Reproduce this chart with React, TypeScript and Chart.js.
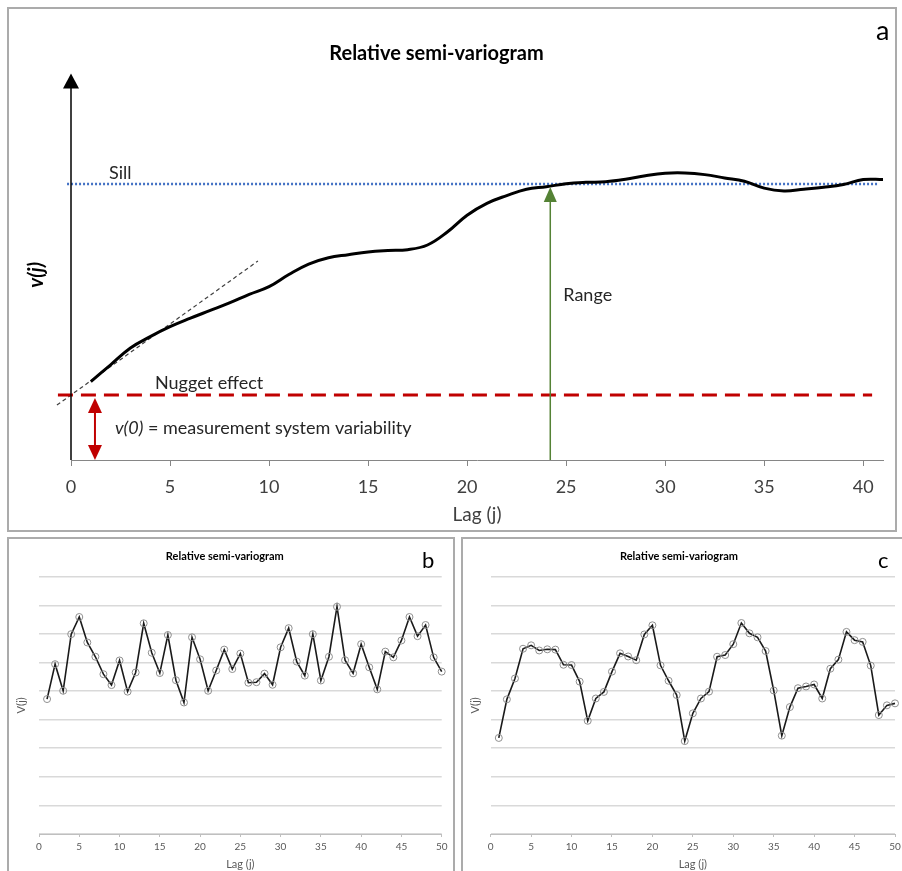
import React, { useEffect, useRef } from 'react';
import { Chart, registerables } from 'chart.js';

Chart.register(...registerables);
Chart.defaults.font.family = 'Lato';

// ---------- Panel a : idealised relative semi-variogram ----------
const LAG_A = [1, 2, 3, 4, 5, 6, 7, 8, 9, 10, 11, 12, 13, 14, 15, 16, 17, 18, 19, 20, 21,
  22, 23, 24, 25, 26, 27, 28, 29, 30, 31, 32, 33, 34, 35, 36, 37, 38, 39, 40, 41];
const V_A = [0.284, 0.345, 0.406, 0.447, 0.483, 0.513, 0.541, 0.569, 0.600, 0.628, 0.672,
  0.710, 0.733, 0.744, 0.754, 0.759, 0.762, 0.779, 0.826, 0.887, 0.930, 0.958, 0.981,
  0.990, 1.001, 1.006, 1.008, 1.017, 1.030, 1.039, 1.040, 1.034, 1.022, 1.010, 0.985,
  0.975, 0.981, 0.988, 0.998, 1.016, 1.016];
const LAG_TICKS_A = [0, 5, 10, 15, 20, 25, 30, 35, 40];
const LAG_MAX_A = 41;
const V_MAX_A = 1.4;

const SILL = 1.0;
const SILL_LAGS = [-0.2, 40.7];
const NUGGET = 0.2355;
const NUGGET_LAGS = [-0.66, 40.45];
const TANGENT_LAGS = [-0.71, 9.44];
const TANGENT_V = [0.199, 0.721];
const RANGE_LAG = 24.2;
const RANGE_TOP = 0.989;
const NUGGET_ARROW_LAG = 1.21;

// ---------- Panels b and c : sample semi-variograms ----------
const LAG_BC = [1, 2, 3, 4, 5, 6, 7, 8, 9, 10, 11, 12, 13, 14, 15, 16, 17, 18, 19, 20,
  21, 22, 23, 24, 25, 26, 27, 28, 29, 30, 31, 32, 33, 34, 35, 36, 37, 38, 39, 40,
  41, 42, 43, 44, 45, 46, 47, 48, 49, 50];
const V_B = [4.72, 5.94, 5.01, 6.99, 7.59, 6.70, 6.20, 5.59, 5.21, 6.07,
  4.98, 5.65, 7.37, 6.34, 5.63, 6.96, 5.38, 4.60, 6.88, 6.11,
  5.01, 5.72, 6.45, 5.77, 6.31, 5.29, 5.31, 5.61, 5.22, 6.53,
  7.20, 6.03, 5.54, 6.99, 5.37, 6.20, 7.95, 6.08, 5.62, 6.64,
  5.83, 5.06, 6.38, 6.18, 6.77, 7.59, 6.92, 7.31, 6.18, 5.68];
const V_C = [3.36, 4.71, 5.44, 6.48, 6.60, 6.42, 6.46, 6.45, 5.92, 5.91,
  5.33, 3.96, 4.74, 4.97, 5.68, 6.32, 6.21, 6.08, 6.98, 7.30,
  5.90, 5.36, 4.86, 3.25, 4.22, 4.74, 4.98, 6.20, 6.26, 6.64,
  7.38, 7.02, 6.88, 6.40, 5.02, 3.44, 4.44, 5.10, 5.16, 5.23,
  4.74, 5.78, 6.10, 7.07, 6.78, 6.72, 5.89, 4.16, 4.50, 4.57];
const LAG_TICKS_BC = [0, 5, 10, 15, 20, 25, 30, 35, 40, 45, 50];
const GRID_BC = [0, 1, 2, 3, 4, 5, 6, 7, 8, 9];

const TITLE = 'Relative semi-variogram';

function tri(ctx: CanvasRenderingContext2D, tx: number, ty: number, bx1: number, by1: number, bx2: number, by2: number) {
  ctx.beginPath();
  ctx.moveTo(tx, ty);
  ctx.lineTo(bx1, by1);
  ctx.lineTo(bx2, by2);
  ctx.closePath();
  ctx.fill();
}

const annotA = {
  id: 'annotA',
  afterDatasetsDraw(chart: any) {
    const { ctx, scales } = chart;
    const x = scales.x;
    const y = scales.y;
    ctx.save();
    // y axis with arrow
    const x0 = x.getPixelForValue(0);
    const y0 = y.getPixelForValue(0);
    const yTop = y.getPixelForValue(V_MAX_A);
    ctx.strokeStyle = '#000';
    ctx.fillStyle = '#000';
    ctx.lineWidth = 1.5;
    ctx.beginPath();
    ctx.moveTo(x0, y0);
    ctx.lineTo(x0, yTop + 14);
    ctx.stroke();
    tri(ctx, x0, yTop, x0 - 8, yTop + 15, x0 + 8, yTop + 15);

    // range arrow
    const xr = x.getPixelForValue(RANGE_LAG);
    const yr = y.getPixelForValue(RANGE_TOP);
    ctx.strokeStyle = '#548235';
    ctx.fillStyle = '#548235';
    ctx.lineWidth = 1.5;
    ctx.beginPath();
    ctx.moveTo(xr, y0);
    ctx.lineTo(xr, yr + 14);
    ctx.stroke();
    tri(ctx, xr, yr, xr - 6.5, yr + 15, xr + 6.5, yr + 15);

    // nugget double arrow
    const xn = x.getPixelForValue(NUGGET_ARROW_LAG);
    const yn = y.getPixelForValue(NUGGET) + 3;
    ctx.strokeStyle = '#C00000';
    ctx.fillStyle = '#C00000';
    ctx.lineWidth = 2;
    ctx.beginPath();
    ctx.moveTo(xn, yn + 14);
    ctx.lineTo(xn, y0 - 14);
    ctx.stroke();
    tri(ctx, xn, yn, xn - 7, yn + 15, xn + 7, yn + 15);
    tri(ctx, xn, y0, xn - 7, y0 - 15, xn + 7, y0 - 15);

    // texts
    ctx.fillStyle = '#262626';
    ctx.textBaseline = 'alphabetic';
    ctx.textAlign = 'left';
    ctx.font = '18px Lato';
    ctx.fillText('Sill', x.getPixelForValue(1.92), y.getPixelForValue(SILL) - 5);
    ctx.fillText('Nugget effect', x.getPixelForValue(4.24), y.getPixelForValue(NUGGET) - 6);
    ctx.fillText('Range', xr + 13, y.getPixelForValue(0.576));
    const tx = x.getPixelForValue(2.22);
    const ty = y.getPixelForValue(0.094);
    ctx.font = 'italic 18px Lato';
    ctx.fillText('v(0)', tx, ty);
    const w = ctx.measureText('v(0)').width;
    ctx.font = '18px Lato';
    ctx.fillText(' = measurement system variability', tx + w, ty);

    // y axis label
    ctx.save();
    ctx.translate(x0 - 34, (y0 + yTop) / 2 + 8);
    ctx.rotate(-Math.PI / 2);
    ctx.font = 'italic bold 20px Lato';
    ctx.fillStyle = '#000';
    ctx.textAlign = 'center';
    ctx.textBaseline = 'middle';
    ctx.fillText('v(j)', 0, 0);
    ctx.restore();

    // panel letter
    ctx.font = '27px Lato';
    ctx.fillStyle = '#000';
    ctx.fillText('a', chart.chartArea.right - 7, 40);
    ctx.restore();
  },
};

function letterPlugin(letter: string, lx: number) {
  return {
    id: 'letter' + letter,
    afterDraw(chart: any) {
      const { ctx } = chart;
      ctx.save();
      ctx.font = '22px Lato';
      ctx.fillStyle = '#000';
      ctx.textAlign = 'left';
      ctx.textBaseline = 'alphabetic';
      ctx.fillText(letter, lx, 29);
      ctx.restore();
    },
  };
}

function cfgA(): any {
  return {
    type: 'line',
    data: {
      datasets: [
        {
          data: LAG_A.map((l, i) => ({ x: l, y: V_A[i] })),
          borderColor: '#000',
          borderWidth: 3,
          tension: 0.4,
          pointRadius: 0,
          fill: false,
        },
        {
          data: SILL_LAGS.map((l) => ({ x: l, y: SILL })),
          borderColor: '#4472C4',
          borderWidth: 2.5,
          borderDash: [2, 2],
          pointRadius: 0,
          clip: false,
        },
        {
          data: NUGGET_LAGS.map((l) => ({ x: l, y: NUGGET })),
          borderColor: '#C00000',
          borderWidth: 3,
          borderDash: [15, 8],
          pointRadius: 0,
          clip: false,
        },
        {
          data: TANGENT_LAGS.map((l, i) => ({ x: l, y: TANGENT_V[i] })),
          borderColor: '#404040',
          borderWidth: 1.2,
          borderDash: [4, 3],
          pointRadius: 0,
          clip: false,
        },
      ],
    },
    options: {
      responsive: false,
      animation: false,
      devicePixelRatio: 1,
      layout: { padding: { left: 0, right: 19, top: 0, bottom: 0 } },
      plugins: {
        legend: { display: false },
        tooltip: { enabled: false },
        title: {
          display: true,
          text: TITLE,
          color: '#000',
          font: { family: 'Lato', size: 20, weight: 'bold' },
          padding: { top: 41.5, bottom: 8.1 },
        },
      },
      scales: {
        x: {
          type: 'linear',
          min: 0,
          max: LAG_MAX_A,
          afterBuildTicks: (s: any) => { s.ticks = LAG_TICKS_A.map((v) => ({ value: v })); },
          afterFit: (s: any) => { s.height = 71; },
          border: { display: true, color: '#868686', width: 1 },
          grid: { display: true, drawOnChartArea: false, drawTicks: true, tickLength: 6, color: '#868686' },
          ticks: { color: '#404040', font: { family: 'Lato', size: 18 }, padding: 10, maxRotation: 0, autoSkip: false },
          title: {
            display: true,
            text: 'Lag (j)',
            color: '#404040',
            font: { family: 'Lato', size: 19 },
            padding: { top: 0, bottom: 4.6 },
          },
        },
        y: {
          type: 'linear',
          min: 0,
          max: V_MAX_A,
          afterFit: (s: any) => { s.width = 81; },
          border: { display: false },
          grid: { display: false },
          ticks: { display: false },
        },
      },
    },
    plugins: [annotA],
  };
}

function cfgBC(values: number[], yWidth: number, rightPad: number, yTitlePad: number, letter: string, lx: number): any {
  return {
    type: 'line',
    data: {
      datasets: [
        {
          data: LAG_BC.map((l, i) => ({ x: l, y: values[i] })),
          borderColor: '#1a1a1a',
          borderWidth: 1.6,
          tension: 0,
          pointRadius: 3.5,
          pointBorderColor: '#8f8f8f',
          pointBackgroundColor: 'rgba(255,255,255,0)',
          pointBorderWidth: 1,
          clip: false,
        },
      ],
    },
    options: {
      responsive: false,
      animation: false,
      devicePixelRatio: 1,
      layout: { padding: { left: 0, right: rightPad, top: 0, bottom: 0 } },
      plugins: {
        legend: { display: false },
        tooltip: { enabled: false },
        title: {
          display: true,
          text: TITLE,
          color: '#000',
          font: { family: 'Lato', size: 11, weight: 'bold' },
          padding: { top: 10.9, bottom: 13.6 },
        },
      },
      scales: {
        x: {
          type: 'linear',
          min: 0,
          max: 50,
          afterBuildTicks: (s: any) => { s.ticks = LAG_TICKS_BC.map((v) => ({ value: v })); },
          afterFit: (s: any) => { s.height = 37; },
          border: { display: true, color: '#bfbfbf', width: 1 },
          grid: { display: true, drawOnChartArea: false, drawTicks: true, tickLength: 3, color: '#bfbfbf' },
          ticks: { color: '#595959', font: { family: 'Lato', size: 10 }, padding: 4, maxRotation: 0, autoSkip: false },
          title: {
            display: true,
            text: 'Lag (j)',
            color: '#595959',
            font: { family: 'Lato', size: 11 },
            padding: { top: 0, bottom: 0.4 },
          },
        },
        y: {
          type: 'linear',
          min: 0,
          max: 9,
          afterBuildTicks: (s: any) => { s.ticks = GRID_BC.map((v) => ({ value: v })); },
          afterFit: (s: any) => { s.width = yWidth; },
          border: { display: false },
          grid: { color: '#d9d9d9', lineWidth: 1.5, drawTicks: false },
          ticks: { display: false },
          title: {
            display: true,
            text: 'V(j)',
            color: '#595959',
            font: { family: 'Lato', size: 11 },
            padding: { top: yTitlePad, bottom: 0 },
          },
        },
      },
    },
    plugins: [letterPlugin(letter, lx)],
  };
}

export default function App() {
  const refA = useRef<HTMLCanvasElement>(null);
  const refB = useRef<HTMLCanvasElement>(null);
  const refC = useRef<HTMLCanvasElement>(null);

  useEffect(() => {
    const charts: Chart[] = [];
    if (refA.current) charts.push(new Chart(refA.current, cfgA()));
    if (refB.current) charts.push(new Chart(refB.current, cfgBC(V_B, 31, 13.3, 7.1, 'b', 414)));
    if (refC.current) charts.push(new Chart(refC.current, cfgBC(V_C, 27.7, 12, 5.4, 'c', 415)));
    return () => charts.forEach((c) => c.destroy());
  }, []);

  const frame = '2px solid #ababab';
  return (
    <div style={{ position: 'absolute', left: 0, top: 0, width: 902, height: 871, overflow: 'hidden', background: '#fff' }}>
      <div style={{ position: 'absolute', left: 7, top: 7, width: 890, height: 525, border: frame, boxSizing: 'border-box' }} />
      <div style={{ position: 'absolute', left: 7, top: 537, width: 448, height: 345, border: frame, boxSizing: 'border-box' }} />
      <div style={{ position: 'absolute', left: 461, top: 537, width: 450, height: 345, border: frame, boxSizing: 'border-box' }} />
      <canvas ref={refA} width={912} height={531} style={{ position: 'absolute', left: -10, top: 0, width: 912, height: 531 }} />
      <canvas ref={refB} width={447} height={332} style={{ position: 'absolute', left: 8, top: 539, width: 447, height: 332 }} />
      <canvas ref={refC} width={444} height={332} style={{ position: 'absolute', left: 463, top: 539, width: 444, height: 332 }} />
    </div>
  );
}
